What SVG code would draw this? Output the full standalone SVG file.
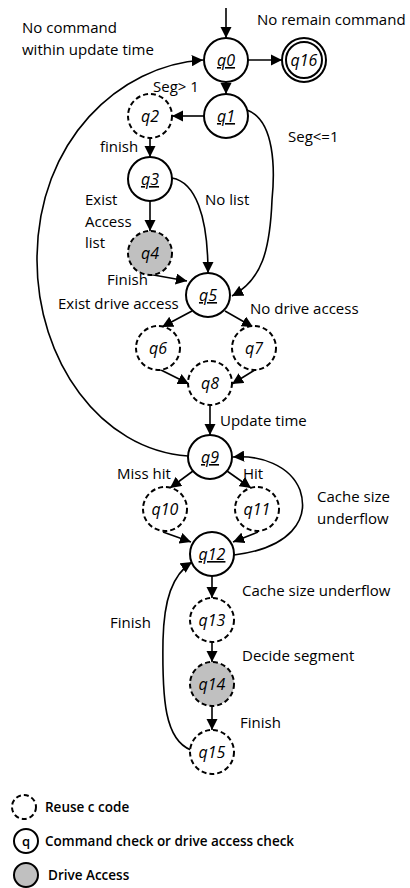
<svg xmlns="http://www.w3.org/2000/svg" width="410" height="888" viewBox="0 0 410 888">
  <style>
    .lbl { font-family: "Open Sans", "Liberation Sans", sans-serif; font-size: 15px; fill: #000; }
    .leg { font-family: "Open Sans", "Liberation Sans", sans-serif; font-size: 13.5px; fill: #000; font-weight: 600; }
    .st { font-family: "Open Sans", "Liberation Sans", sans-serif; font-size: 16px; font-style: italic; fill: #000; text-anchor: middle; }
    .u { text-decoration: underline; }
    .solid { fill: #fff; stroke: #000; stroke-width: 2; }
    .dash { fill: #fff; stroke: #000; stroke-width: 2; stroke-dasharray: 5 3; }
    .drive { fill: #c0c0c0; stroke: #000; stroke-width: 2; stroke-dasharray: 5 3; }
    .edge { fill: none; stroke: #000; stroke-width: 1.6; marker-end: url(#ah); }
  </style>
  <defs>
    <marker id="ah" viewBox="0 0 10 10" refX="10" refY="5" markerWidth="7" markerHeight="7" markerUnits="strokeWidth" orient="auto">
      <path d="M0,0 L10,5 L0,10 Z" fill="#000"/>
    </marker>
  </defs>
  <rect width="410" height="888" fill="#fff"/>

  <!-- connectors -->
  <g id="edges">
    <path class="edge" d="M226,8 L226,38"/>
    <path class="edge" d="M248,60 L282,60"/>
    <path class="edge" d="M226,82 L226,94"/>
    <path class="edge" d="M204,116 L172,116"/>
    <path class="edge" d="M150,138 L150,157"/>
    <path class="edge" d="M247,110 C275,120 275,170 272,200 C270,250 262,280 232,296"/>
    <path class="edge" d="M172,178 C195,182 208,215 208,273"/>
    <path class="edge" d="M150,201 L150,231"/>
    <path class="edge" d="M148,274 L187,281"/>
    <path class="edge" d="M192,311 L162,327"/>
    <path class="edge" d="M225,311 L253,327"/>
    <path class="edge" d="M157,368 L189,384"/>
    <path class="edge" d="M258,368 L232,384"/>
    <path class="edge" d="M210,405 L210,435"/>
    <path class="edge" d="M188,456 C100,450 37,360 37,260 C37,140 120,65 203,60"/>
    <path class="edge" d="M193,471 L170,488"/>
    <path class="edge" d="M227,471 L251,488"/>
    <path class="edge" d="M163,532 L191,542"/>
    <path class="edge" d="M258,532 L233,542"/>
    <path class="edge" d="M234,555 C290,548 310,520 300,490 C290,465 260,455 233,457"/>
    <path class="edge" d="M212,576 L212,598"/>
    <path class="edge" d="M212,642 L212,662"/>
    <path class="edge" d="M212,706 L212,730"/>
    <path class="edge" d="M191,750 C165,740 162,700 163,640 C164,600 172,575 192,562"/>
  </g>

  <!-- states -->
  <g id="q0"><circle class="solid" cx="226" cy="60" r="22"/><text class="st u" x="226" y="66">q0</text></g>
  <g id="q16"><circle class="solid" cx="304" cy="60" r="22"/><circle class="solid" cx="304" cy="60" r="18"/><text class="st" x="304" y="66">q16</text></g>
  <g id="q1"><circle class="solid" cx="226" cy="116" r="22"/><text class="st u" x="226" y="122">q1</text></g>
  <g id="q2"><circle class="dash" cx="150" cy="116" r="22"/><text class="st" x="150" y="122">q2</text></g>
  <g id="q3"><circle class="solid" cx="150" cy="179" r="22"/><text class="st u" x="150" y="185">q3</text></g>
  <g id="q4"><circle class="drive" cx="150" cy="253" r="22"/><text class="st" x="150" y="259" fill="#333">q4</text></g>
  <g id="q5"><circle class="solid" cx="208" cy="295" r="22"/><text class="st u" x="208" y="301">q5</text></g>
  <g id="q6"><circle class="dash" cx="158" cy="348" r="22"/><text class="st" x="158" y="354">q6</text></g>
  <g id="q7"><circle class="dash" cx="254" cy="348" r="22"/><text class="st" x="254" y="354">q7</text></g>
  <g id="q8"><circle class="dash" cx="210" cy="383" r="22"/><text class="st" x="210" y="389">q8</text></g>
  <g id="q9"><circle class="solid" cx="210" cy="457" r="22"/><text class="st u" x="210" y="463">q9</text></g>
  <g id="q10"><circle class="dash" cx="165" cy="509" r="22"/><text class="st" x="165" y="515">q10</text></g>
  <g id="q11"><circle class="dash" cx="257" cy="509" r="22"/><text class="st" x="257" y="515">q11</text></g>
  <g id="q12"><circle class="solid" cx="212" cy="554" r="22"/><text class="st u" x="212" y="560">q12</text></g>
  <g id="q13"><circle class="dash" cx="212" cy="620" r="22"/><text class="st" x="212" y="626">q13</text></g>
  <g id="q14"><circle class="drive" cx="212" cy="684" r="22"/><text class="st" x="212" y="690" fill="#333">q14</text></g>
  <g id="q15"><circle class="dash" cx="212" cy="752" r="22"/><text class="st" x="212" y="758">q15</text></g>

  <!-- transition labels -->
  <g id="labels">
    <text class="lbl" x="22" y="33">No command</text>
    <text class="lbl" x="22" y="55">within update time</text>
    <text class="lbl" x="257" y="25">No remain command</text>
    <text class="lbl" x="153" y="92">Seg&gt; 1</text>
    <text class="lbl" x="288" y="142">Seg&lt;=1</text>
    <text class="lbl" x="100" y="152">finish</text>
    <text class="lbl" x="85" y="205">Exist</text>
    <text class="lbl" x="85" y="227">Access</text>
    <text class="lbl" x="85" y="248">list</text>
    <text class="lbl" x="205" y="205">No list</text>
    <text class="lbl" x="107" y="285">Finish</text>
    <text class="lbl" x="58" y="309">Exist drive access</text>
    <text class="lbl" x="250" y="314">No drive access</text>
    <text class="lbl" x="220" y="426">Update time</text>
    <text class="lbl" x="117" y="479">Miss hit</text>
    <text class="lbl" x="243" y="479">Hit</text>
    <text class="lbl" x="317" y="502">Cache size</text>
    <text class="lbl" x="317" y="524">underflow</text>
    <text class="lbl" x="242" y="596">Cache size underflow</text>
    <text class="lbl" x="110" y="628">Finish</text>
    <text class="lbl" x="242" y="661">Decide segment</text>
    <text class="lbl" x="240" y="728">Finish</text>
  </g>

  <!-- legend -->
  <g id="legend">
    <circle class="dash" cx="24" cy="807" r="12"/>
    <text class="leg" x="45" y="812">Reuse c code</text>
    <circle class="solid" cx="26" cy="841" r="12"/>
    <text x="26" y="846" text-anchor="middle" style="font-family: 'Open Sans', sans-serif; font-size: 13px; font-weight: 600;">q</text>
    <text class="leg" x="45" y="846">Command check or drive access check</text>
    <circle cx="26" cy="875" r="12" fill="#c0c0c0" stroke="#000" stroke-width="2"/>
    <text class="leg" x="48" y="880">Drive Access</text>
  </g>
</svg>
